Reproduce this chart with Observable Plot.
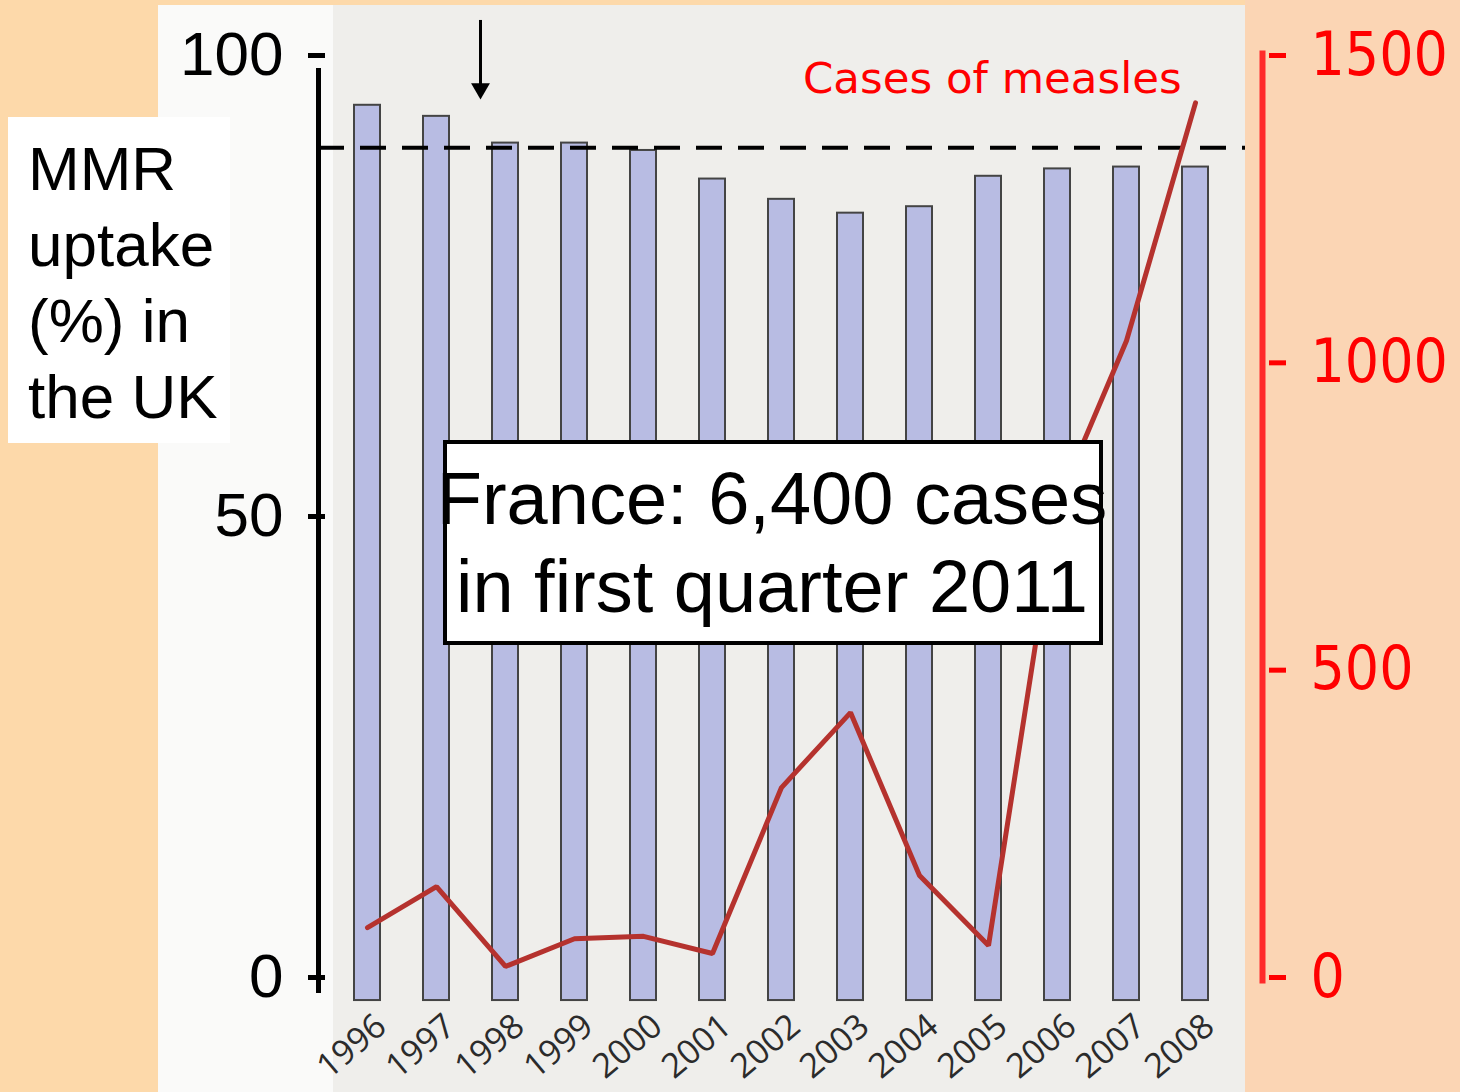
<!DOCTYPE html>
<html>
<head>
<meta charset="utf-8">
<script src="https://cdn.jsdelivr.net/npm/d3@7"></script>
<script src="https://cdn.jsdelivr.net/npm/@observablehq/plot@0.6"></script>
<style>
  html, body { margin: 0; padding: 0; width: 1460px; height: 1092px; overflow: hidden; background: #FDD9AA; }
  #stage { position: relative; width: 1460px; height: 1092px; }
  #stage > svg { position: absolute; left: 0; top: 0; }
</style>
</head>
<body>
<div id="stage"></div>
<script>
// ---- data ----
const years = ["1996","1997","1998","1999","2000","2001","2002","2003","2004","2005","2006","2007","2008"];
const uptake = [94.6, 93.4, 90.5, 90.5, 89.7, 86.6, 84.4, 82.9, 83.6, 86.9, 87.7, 87.9, 87.9];
const cases = [81, 148, 18, 63, 67, 39, 309, 431, 166, 52, 771, 1036, 1423];
const leftTicks = [0, 50, 100];
const rightTicks = [0, 500, 1000, 1500];
const target = 90;
const casesMax = 1500;
const uptakeMax = 100;
const arrowYear = "1998";
const leftLabel = ["MMR", "uptake", "(%) in", "the UK"];
const rightLabel = "Cases of measles";
const boxLines = ["France: 6,400 cases", "in first quarter 2011"];

const data = years.map((year, i) => ({year, uptake: uptake[i], cases: cases[i]}));
const toLeft = v => v * uptakeMax / casesMax;

const W = 1460, H = 1092;
const stage = d3.select("#stage");

// ---- background layer ----
const bg = stage.append("svg").attr("width", W).attr("height", H);
bg.append("rect").attr("x", 0).attr("y", 0).attr("width", W).attr("height", H).attr("fill", "#FDD9AA");
bg.append("rect").attr("x", 1245).attr("y", 0).attr("width", W - 1245).attr("height", H).attr("fill", "#FBD5B4");
bg.append("rect").attr("x", 158).attr("y", 5).attr("width", 1087).attr("height", H - 5).attr("fill", "#EFEEEB");
bg.append("rect").attr("x", 158).attr("y", 5).attr("width", 175).attr("height", H - 5).attr("fill", "#FAFAF9");
bg.append("rect").attr("x", 8).attr("y", 117).attr("width", 222).attr("height", 326).attr("fill", "#FFFFFF");
bg.append("g").selectAll("text").data(leftLabel).join("text")
  .attr("x", 28).attr("y", (d, i) => 190 + i * 76)
  .attr("font-family", "Liberation Sans, Arial, sans-serif").attr("font-size", 62).attr("fill", "#000")
  .text(d => d);

// ---- chart ----
const font = "Liberation Sans, Arial, sans-serif";
const chart = Plot.plot({
  width: W, height: H,
  marginTop: 55, marginBottom: 115, marginLeft: 306, marginRight: 204,
  style: {background: "transparent", overflow: "visible"},
  x: {type: "band", domain: years, paddingInner: 0.627, paddingOuter: 0.627, axis: null},
  y: {domain: [0, uptakeMax], axis: null},
  marks: [
    Plot.barY(data, {x: "year", y1: -2.5, y2: "uptake", fill: "#B8BCE3", stroke: "#444", strokeWidth: 2}),
    Plot.ruleY([target], {stroke: "#000", strokeWidth: 4, strokeDasharray: "26,16", insetLeft: 12, insetRight: 11}),
    Plot.line(data, {x: "year", y: d => toLeft(d.cases), stroke: "#B5322E", strokeWidth: 5, strokeLinejoin: "miter"}),
    // left axis
    Plot.frame({anchor: "left", stroke: "#000", strokeWidth: 5, dx: 12, insetTop: 15, insetBottom: -13}),
    Plot.axisY(leftTicks, {anchor: "left", label: null, tickSize: 17, tickPadding: 25, dx: 19, color: "#000",
      strokeWidth: 5, fontSize: 62, fontFamily: font, tickFormat: d => d}),
    // right axis
    Plot.frame({anchor: "right", stroke: "#FF2A2A", strokeWidth: 6, dx: 6, insetTop: -2, insetBottom: -3}),
    Plot.axisY(rightTicks.map(toLeft), {anchor: "right", label: null, tickSize: 17, tickPadding: 25, dx: 12, color: "#FF0000",
      strokeWidth: 5, fontSize: 60, fontFamily: "DejaVu Sans Condensed, DejaVu Sans, sans-serif",
      tickFormat: d => String(Math.round(d * casesMax / uptakeMax))}),
    // x axis
    Plot.axisX({anchor: "bottom", label: null, tickSize: 0, tickPadding: 44, tickRotate: -40, dx: 14,
      color: "#2b2b2b", fontSize: 34, fontFamily: "Open Sans, sans-serif"}),
    // arrow
    Plot.ruleX([arrowYear], {y1: 96, y2: 103.8, dx: -25, stroke: "#000", strokeWidth: 3}),
    Plot.dot([arrowYear], {x: d => d, y: 96.4, symbol: "triangle", rotate: 180, r: 7, fill: "#000", dx: -25})
  ]
});
stage.node().appendChild(chart);

// ---- foreground annotations ----
const fg = stage.append("svg").attr("width", W).attr("height", H);
fg.append("text").attr("x", 803).attr("y", 93)
  .attr("font-family", "DejaVu Sans, sans-serif").attr("font-size", 43.5)
  .attr("fill", "#FF0000").text(rightLabel);
fg.append("rect").attr("x", 445).attr("y", 442).attr("width", 656).attr("height", 201)
  .attr("fill", "#FFFFFF").attr("stroke", "#000").attr("stroke-width", 4);
fg.append("g").selectAll("text").data(boxLines).join("text")
  .attr("x", 772).attr("y", (d, i) => 524 + i * 88)
  .attr("text-anchor", "middle")
  .attr("font-family", font).attr("font-size", 74).attr("fill", "#000")
  .text(d => d);
</script>
</body>
</html>
